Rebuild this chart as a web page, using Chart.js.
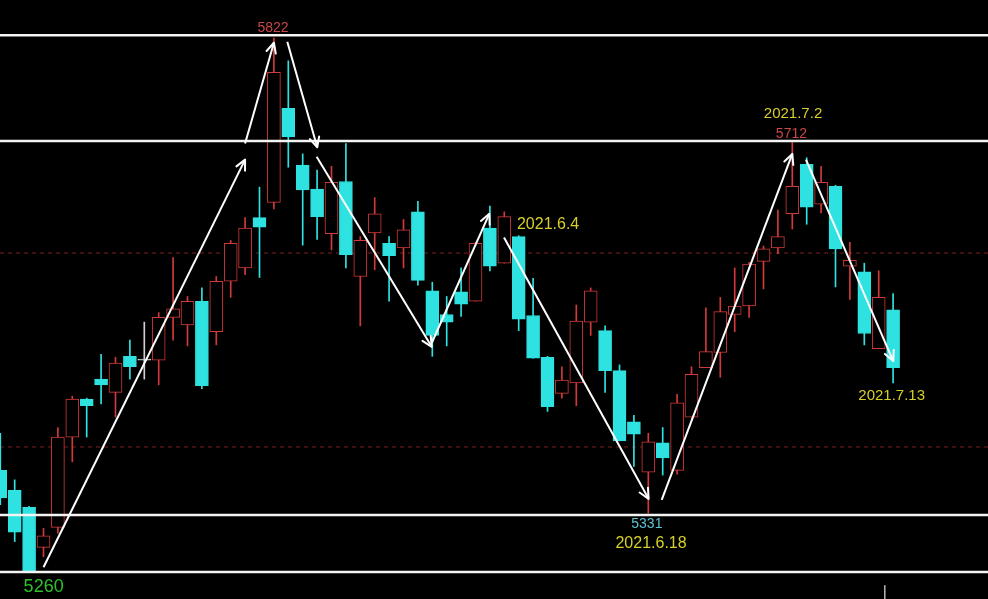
<!DOCTYPE html>
<html><head><meta charset="utf-8">
<script src="https://cdn.jsdelivr.net/npm/chart.js@4"></script>
<style>html,body{margin:0;padding:0;background:#000;overflow:hidden}canvas{display:block}</style>
</head><body>
<canvas id="c" width="988" height="599"></canvas>
<script>
// ---- data ----
const dates = ['2021-04-12','2021-04-13','2021-04-14','2021-04-15','2021-04-16','2021-04-19','2021-04-20','2021-04-21','2021-04-22','2021-04-23',
'2021-04-26','2021-04-27','2021-04-28','2021-04-29','2021-04-30','2021-05-06','2021-05-07','2021-05-10','2021-05-11','2021-05-12',
'2021-05-13','2021-05-14','2021-05-17','2021-05-18','2021-05-19','2021-05-20','2021-05-21','2021-05-24','2021-05-25','2021-05-26',
'2021-05-27','2021-05-28','2021-05-31','2021-06-01','2021-06-02','2021-06-03','2021-06-04','2021-06-07','2021-06-08','2021-06-09',
'2021-06-10','2021-06-11','2021-06-15','2021-06-16','2021-06-17','2021-06-18','2021-06-21','2021-06-22','2021-06-23','2021-06-24',
'2021-06-25','2021-06-28','2021-06-29','2021-06-30','2021-07-01','2021-07-02','2021-07-05','2021-07-06','2021-07-07','2021-07-08',
'2021-07-09','2021-07-12','2021-07-13'];
const opens  = [5367,5346,5328,5286,5307,5402,5442,5463,5449,5487,5483,5483,5528,5520,5545,5513,5566,5580,5633,5649,
                5748,5688,5663,5616,5671,5571,5617,5606,5601,5639,5556,5531,5555,5545,5622,5585,5613,5530,5486,5448,
                5459,5523,5514,5472,5418,5365,5396,5367,5423,5475,5491,5531,5540,5587,5601,5637,5689,5647,5666,5582,
                5576,5495,5536];
const highs  = [5406,5357,5329,5306,5412,5445,5443,5489,5486,5504,5523,5533,5591,5550,5559,5571,5609,5633,5665,5822,
                5798,5700,5683,5687,5711,5613,5654,5613,5631,5650,5565,5550,5580,5607,5645,5639,5614,5569,5487,5476,
                5541,5559,5519,5478,5425,5406,5412,5447,5476,5538,5549,5580,5586,5603,5641,5712,5696,5687,5667,5607,
                5585,5577,5553];
const lows   = [5331,5292,5260,5276,5301,5376,5402,5437,5423,5463,5463,5457,5504,5498,5453,5499,5549,5573,5570,5642,
                5686,5604,5610,5599,5580,5519,5578,5545,5580,5562,5487,5498,5529,5545,5577,5585,5514,5485,5429,5443,
                5435,5509,5449,5398,5371,5322,5362,5363,5423,5475,5465,5513,5528,5558,5595,5621,5626,5638,5560,5547,
                5499,5495,5459];
const closes = [5338,5302,5261,5298,5402,5442,5435,5457,5480,5476,5483,5528,5537,5545,5456,5566,5606,5622,5623,5786,
                5718,5662,5634,5670,5594,5609,5637,5593,5620,5567,5509,5523,5542,5606,5582,5634,5526,5485,5434,5462,
                5524,5556,5472,5398,5405,5397,5380,5438,5468,5492,5534,5540,5584,5600,5613,5666,5644,5670,5600,5588,
                5511,5549,5475];
const solidLevels  = [5825, 5713.6, 5320, 5260];
const dashedLevels = [5595.7, 5391.6];
// arrows: [fromIndex, fromPrice, toIndex, toPrice]
const arrows = [
  [3.0, 5265, 17.0, 5694],
  [17.0, 5711, 19.0, 5817],
  [19.93, 5818, 22.01, 5707],
  [21.97, 5697, 29.96, 5497],
  [29.96, 5501, 33.96, 5637],
  [34.98, 5612, 45.02, 5337],
  [45.93, 5336, 55.0, 5700],
  [55.95, 5694, 62.01, 5482]
];
const noteTexts = ['5822','5712','2021.7.2','2021.6.4','5331','2021.6.18','2021.7.13','5260'];
const noteIdx   = [18.94, 54.94, 55.05, 35.88, 44.9, 45.19, 61.9, 3.01];
const notePrice = [5832.5, 5720.5, 5742.6, 5625.7, 5310, 5290, 5445.2, 5244.2];
const lowerTick = [61.42, 5246, 5231.6];

// ---- styles ----
const RED = '#d23a3a', CYAN = '#2fe2e2', DOJI = '#d0d0d0';
const YEL = '#d6cf2a', RED_T = '#c84848', CYAN_T = '#5cc4d2', GRN = '#2cc22c';
const noteStyle = [
  {c:RED_T,s:14,a:'center'},{c:RED_T,s:14,a:'center'},{c:YEL,s:15,a:'center'},{c:YEL,s:16,a:'left'},
  {c:CYAN_T,s:14,a:'center'},{c:YEL,s:16,a:'center'},{c:YEL,s:15,a:'center'},{c:GRN,s:18,a:'center'}
];
const FONT = '"Liberation Sans", Arial, sans-serif';

const idx = opens.map((_, i) => i);
const candleColor = idx.map(i => closes[i] > opens[i] ? RED : (closes[i] < opens[i] ? CYAN : DOJI));
const bodyFill = idx.map(i => closes[i] > opens[i] ? '#000000' : candleColor[i]);

const X_MIN = -0.0208, X_MAX = 68.59, Y_MIN = 5231.6, Y_MAX = 5862;

const datasets = [];
datasets.push({
  type: 'bar', label: 'body', order: 2, grouped: false,
  data: idx.map(i => ({x: i, y: [opens[i], closes[i]]})),
  backgroundColor: bodyFill, borderColor: candleColor, borderWidth: 1,
  borderSkipped: false, barThickness: 13, minBarLength: 1
});
datasets.push({
  type: 'bar', label: 'wick', order: 3, grouped: false,
  data: idx.map(i => ({x: i, y: [lows[i], highs[i]]})),
  backgroundColor: candleColor, borderWidth: 0, barThickness: 1
});
solidLevels.forEach(v => datasets.push({
  type: 'line', order: 1, data: [{x: X_MIN, y: v}, {x: X_MAX, y: v}],
  borderColor: '#f4f4f4', borderWidth: 2.5, pointRadius: 0
}));
dashedLevels.forEach(v => datasets.push({
  type: 'line', order: 4, data: [{x: X_MIN, y: v}, {x: X_MAX, y: v}],
  borderColor: '#7e1f1f', borderWidth: 1, borderDash: [4, 4], pointRadius: 0
}));
arrows.forEach(a => datasets.push({
  type: 'line', order: 0, isArrow: true, data: [{x: a[0], y: a[1]}, {x: a[2], y: a[3]}],
  borderColor: '#ffffff', borderWidth: 2, pointRadius: 0
}));
datasets.push({
  type: 'line', order: 0, data: [{x: lowerTick[0], y: lowerTick[1]}, {x: lowerTick[0], y: lowerTick[2]}],
  borderColor: '#b0b0b0', borderWidth: 1, pointRadius: 0
});

const overlay = {
  id: 'overlay',
  afterDatasetsDraw(chart) {
    const ctx = chart.ctx, xs = chart.scales.x, ys = chart.scales.y;
    chart.data.datasets.forEach((ds, di) => {
      if (!ds.isArrow) return;
      const pts = chart.getDatasetMeta(di).data;
      const a = pts[0], b = pts[1];
      const ang = Math.atan2(b.y - a.y, b.x - a.x);
      ctx.save();
      ctx.strokeStyle = '#ffffff'; ctx.lineWidth = 2; ctx.lineCap = 'round';
      ctx.beginPath();
      [-1, 1].forEach(s => {
        const t = ang + Math.PI + s * 0.45;
        ctx.moveTo(b.x, b.y);
        ctx.lineTo(b.x + 11 * Math.cos(t), b.y + 11 * Math.sin(t));
      });
      ctx.stroke();
      ctx.restore();
    });
    ctx.save();
    ctx.textBaseline = 'middle';
    noteTexts.forEach((t, i) => {
      const st = noteStyle[i];
      ctx.font = st.s + 'px ' + FONT;
      ctx.fillStyle = st.c;
      ctx.textAlign = st.a;
      ctx.fillText(t, xs.getPixelForValue(noteIdx[i]), ys.getPixelForValue(notePrice[i]));
    });
    ctx.restore();
  }
};

new Chart(document.getElementById('c'), {
  type: 'bar',
  data: { labels: dates, datasets },
  options: {
    responsive: false, animation: false, devicePixelRatio: 1,
    layout: { padding: 0 },
    plugins: { legend: { display: false }, tooltip: { enabled: false } },
    scales: {
      x: { type: 'linear', min: X_MIN, max: X_MAX, offset: false, display: false, grid: { display: false } },
      y: { type: 'linear', min: Y_MIN, max: Y_MAX, display: false, grid: { display: false } }
    }
  },
  plugins: [overlay, {
    id: 'bg', beforeDraw(c) { c.ctx.save(); c.ctx.fillStyle = '#000'; c.ctx.fillRect(0, 0, c.width, c.height); c.ctx.restore(); }
  }]
});
</script>
</body></html>
